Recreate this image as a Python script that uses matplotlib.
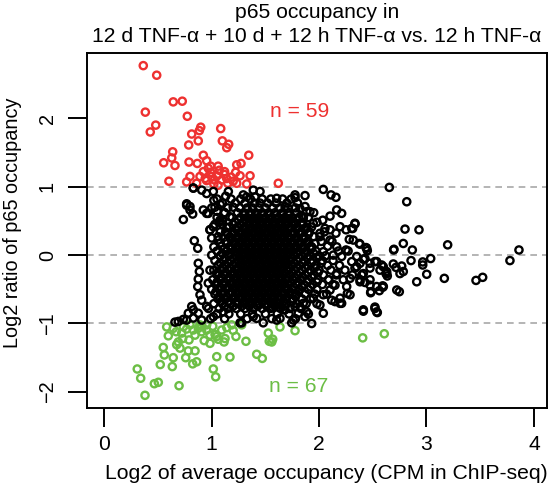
import matplotlib
matplotlib.use('Agg')
import matplotlib.pyplot as plt

plt.rcParams['font.family'] = ['Liberation Sans', 'DejaVu Sans']

# points above the +1 line (red)
red_x = [0.363, 0.488, 0.642, 0.726, 0.382, 0.773, 0.479, 0.428, 0.898, 0.885,
         0.814, 1.084, 0.875, 1.099, 1.158, 1.140, 0.786, 0.637, 0.628, 0.553,
         0.658, 0.789, 0.922, 0.866, 1.345, 0.953, 1.233, 1.273, 0.968, 0.922,
         1.071, 0.991, 1.223, 0.798, 0.891, 1.117, 1.264, 1.357, 0.602, 0.767,
         0.953, 1.024, 1.093, 1.140, 1.233, 1.326, 1.620, 0.860, 1.059, 1.050,
         1.000, 1.150, 1.180, 1.020, 0.940, 1.120, 1.200, 0.990, 1.060]
red_y = [2.77, 2.63, 2.24, 2.25, 2.09, 2.03, 1.90, 1.80, 1.87, 1.82,
         1.77, 1.85, 1.67, 1.67, 1.62, 1.57, 1.61, 1.51, 1.42, 1.35,
         1.31, 1.36, 1.46, 1.34, 1.46, 1.38, 1.32, 1.34, 1.27, 1.22,
         1.24, 1.21, 1.21, 1.15, 1.15, 1.18, 1.16, 1.16, 1.08, 1.07,
         1.09, 1.10, 1.10, 1.12, 1.05, 1.04, 1.05, 1.05, 1.02, 1.16,
         1.15, 1.05, 1.14, 1.04, 1.12, 1.22, 1.08, 1.30, 1.30]

# points below the -1 line (green)
green_x = [0.307, 0.339, 0.379, 0.466, 0.503, 0.696, 0.521, 0.559, 0.549, 0.596,
           0.642, 0.633, 0.674, 0.705, 0.730, 0.789, 0.782, 0.845, 0.758, 0.823,
           0.860, 1.015, 1.037, 1.047, 1.170, 1.419, 1.471, 1.319, 1.226, 1.115,
           0.984, 1.061, 1.031, 1.527, 1.536, 1.559, 1.568, 1.776, 1.636, 2.406,
           2.607, 0.581, 0.642, 0.767, 0.829, 0.875, 0.907, 0.953, 0.984, 1.093,
           1.140, 1.186, 0.891, 0.736, 0.798, 0.953, 0.689, 1.279, 1.124, 1.047,
           0.845, 0.721, 0.910, 1.010, 0.670, 1.200, 0.930]
green_y = [-1.665, -1.80, -2.05, -1.88, -1.86, -1.91, -1.60, -1.46, -1.35, -1.18,
           -1.50, -1.63, -1.31, -1.36, -1.22, -1.24, -1.40, -1.40, -1.50, -1.59,
           -1.56, -1.665, -1.78, -1.485, -1.49, -1.45, -1.51, -1.26, -1.19, -1.27,
           -1.29, -1.23, -1.16, -1.14, -1.26, -1.27, -1.23, -1.105, -1.05, -1.21,
           -1.15, -1.05, -1.07, -1.08, -1.095, -1.07, -1.12, -1.095, -1.17, -1.095,
           -1.06, -1.02, -1.02, -1.05, -1.02, -1.02, -1.27, -1.02, -1.22, -1.19,
           -1.17, -1.14, -1.04, -1.04, -1.12, -1.10, -1.25]

# scattered unchanged peaks (black), outside the dense core
black_x = [2.654, 2.816, 2.800, 2.930, 2.784, 2.694, 2.868, 3.197, 2.856, 2.965,
           3.039, 2.965, 3.002, 2.909, 3.166, 3.461, 3.523, 3.777, 3.861, 2.691,
           2.769, 2.784, 2.747, 2.412, 2.520, 2.542, 2.592, 2.561, 2.480, 2.583,
           2.623, 2.635, 2.716, 2.753, 2.427, 2.474, 2.381, 2.334, 2.313, 2.318,
           2.381, 2.437, 2.449, 2.412, 2.520, 2.629, 2.350, 2.474, 2.412,
           2.039, 2.111, 2.157, 1.776, 2.164, 2.210, 2.102, 2.034, 2.334, 2.304,
           2.251, 2.195, 2.157, 2.281, 2.374, 2.443, 2.697, 2.251, 2.164, 2.102,
           2.008, 1.962, 2.536, 2.598, 2.474, 2.381, 2.304, 2.397, 2.474, 2.536,
           2.592, 2.483, 2.381, 2.288, 2.257, 2.263, 2.195, 2.195, 2.723, 2.412,
           2.520, 2.536, 1.931, 1.745, 2.008, 2.117, 2.102, 2.039, 1.946, 1.853,
           1.776, 1.885, 1.806, 1.667, 1.605, 1.869, 1.869, 1.915, 1.853, 1.946,
           2.055, 2.102, 2.008, 1.931, 2.039, 2.132, 2.210, 2.350, 2.427, 2.567,
           2.629, 2.334, 2.241, 2.164, 2.225, 2.148, 2.086, 2.288,
           1.605, 0.953, 1.015, 1.155, 1.294, 1.387, 1.450, 1.403, 0.922, 0.968,
           1.015, 0.984, 1.077, 1.683, 1.822, 1.885, 1.698, 1.853,
           1.264, 1.480, 1.760, 1.636, 1.387, 1.108, 1.015, 0.907, 1.559, 1.683,
           1.822, 2.039, 2.148, 2.210, 2.598,
           0.658, 0.767, 0.875, 1.279, 1.419, 1.574, 0.829,
           0.767, 0.798, 0.829, 1.776, 1.869, 1.326,
           0.767, 0.798, 0.823, 0.736, 0.829, 0.907, 0.953, 0.984, 0.838, 0.870,
           1.000, 0.875, 0.885, 0.875, 0.870, 0.891, 0.907, 0.814, 0.782, 0.736,
           0.689, 0.829, 0.984, 0.968, 0.953,
           1.100, 1.050, 1.150, 1.000, 1.080, 1.120, 1.030,
           1.020, 1.130, 1.080, 1.200, 1.050, 1.170, 1.100, 1.030, 1.140, 1.080,
           1.020, 1.060]
black_y = [0.99, 0.78, 0.38, 0.37, 0.17, 0.075, 0.075, 0.15, -0.08, -0.10,
           -0.05, -0.145, -0.28, -0.39, -0.34, -0.37, -0.325, -0.08, 0.075, -0.13,
           -0.16, -0.24, -0.535, -0.82, -0.78, -0.84, -0.45, -0.52, -0.55, -0.145,
           -0.27, -0.305, -0.18, -0.27, -0.40, -0.44, -0.36, 0.455, 0.39, 0.22,
           0.16, 0.11, 0.065, -0.06, -0.095, -0.24, -0.17, -0.19, -0.27,
           0.96, 0.88, 0.845, 0.88, 0.66, 0.61, 0.57, 0.51, 0.465, 0.39,
           0.37, 0.415, 0.32, 0.23, 0.17, 0.10, 0.085, 0.075, 0.12, 0.22,
           0.27, 0.17, -0.095, -0.17, -0.12, -0.12, -0.095, -0.29, -0.36, -0.46,
           -0.47, -0.535, -0.39, -0.34, -0.46, -0.56, -0.63, -0.705, -0.51, -0.80,
           -0.76, -0.83, -1.00, -0.99, -0.73, -0.66, -0.51, -0.58, -0.63, -0.705,
           -0.755, -0.83, -0.85, -0.80, -0.95, -0.90, 0.71, 0.635, 0.54, 0.465,
           0.39, 0.37, 0.32, 0.12, 0.05, 0.00, -0.02, -0.02, -0.05, -0.22,
           -0.27, -0.19, -0.22, -0.27, -0.36, -0.44, -0.36, -0.58,
           0.83, 0.90, 0.93, 0.93, 0.88, 0.95, 0.93, 0.85, 0.66, 0.61,
           0.415, 0.37, 0.51, 0.71, 0.68, 0.635, 0.54, 0.56,
           -0.99, -0.99, -0.95, -0.925, -0.90, -0.83, -0.90, -0.95, -0.755, -0.80,
           -0.755, -0.85, -0.68, -0.705, -0.46,
           -0.98, -0.95, -0.85, -0.99, -0.925, -0.705, -0.80,
           0.75, 0.71, 0.98, 0.84, 0.87, 0.85,
           0.73, 0.66, 0.60, 0.52, 0.98, 0.95, 0.61, 0.37, 0.21, 0.10,
           0.00, -0.12, -0.24, -0.35, -0.46, -0.58, -0.66, -0.75, -0.85, -0.94,
           -0.97, -0.92, -0.22, -0.41, -0.75,
           0.45, 0.55, 0.30, 0.25, 0.18, 0.62, 0.70,
           0.80, 0.86, 0.74, 0.70, 0.64, 0.56, 0.50, 0.45, 0.40, 0.34,
           0.12, 0.22]

# dense core of the cloud, read row by row
core_y = [0.82, 0.76, 0.69, 0.62, 0.55, 0.48, 0.41, 0.34, 0.27, 0.20,
          0.13, 0.06, -0.01, -0.08, -0.15, -0.22, -0.29, -0.36, -0.43, -0.50,
          -0.57, -0.64, -0.71, -0.78, -0.86, -0.93]
core_x = [
    [1.05, 1.18, 1.27, 1.36, 1.47, 1.55, 1.66, 1.74],
    [1.10, 1.22, 1.31, 1.40, 1.45, 1.52, 1.60, 1.70, 1.80],
    [1.00, 1.15, 1.26, 1.33, 1.38, 1.44, 1.50, 1.57, 1.63, 1.71, 1.78],
    [1.12, 1.24, 1.30, 1.36, 1.41, 1.47, 1.53, 1.59, 1.66, 1.72, 1.79, 1.95],
    [1.19, 1.27, 1.33, 1.39, 1.44, 1.50, 1.56, 1.62, 1.68, 1.75, 1.81, 1.90],
    [1.07, 1.22, 1.29, 1.35, 1.41, 1.46, 1.52, 1.58, 1.64, 1.70, 1.77, 1.84, 1.98],
    [1.16, 1.24, 1.31, 1.37, 1.43, 1.49, 1.55, 1.61, 1.67, 1.73, 1.80, 1.88, 1.93],
    [1.13, 1.20, 1.27, 1.33, 1.39, 1.45, 1.51, 1.57, 1.63, 1.69, 1.76, 1.83, 1.91, 2.05],
    [1.06, 1.17, 1.24, 1.30, 1.36, 1.42, 1.48, 1.54, 1.60, 1.66, 1.72, 1.79, 1.86, 1.95],
    [1.14, 1.21, 1.27, 1.33, 1.39, 1.45, 1.51, 1.57, 1.63, 1.69, 1.75, 1.82, 1.89, 2.02, 2.12],
    [1.09, 1.17, 1.24, 1.30, 1.36, 1.42, 1.48, 1.54, 1.60, 1.66, 1.72, 1.78, 1.85, 1.92, 2.08],
    [1.05, 1.14, 1.21, 1.27, 1.33, 1.39, 1.45, 1.51, 1.57, 1.63, 1.69, 1.75, 1.81, 1.88, 1.97, 2.18, 2.27],
    [1.08, 1.16, 1.23, 1.29, 1.35, 1.41, 1.47, 1.53, 1.59, 1.65, 1.71, 1.77, 1.84, 1.91, 2.00, 2.06],
    [1.03, 1.11, 1.18, 1.25, 1.31, 1.37, 1.43, 1.49, 1.55, 1.61, 1.67, 1.73, 1.79, 1.86, 1.94, 2.03, 2.13],
    [1.06, 1.13, 1.20, 1.27, 1.33, 1.39, 1.45, 1.51, 1.57, 1.63, 1.69, 1.75, 1.82, 1.89, 1.97, 2.08, 2.19],
    [1.02, 1.09, 1.16, 1.23, 1.29, 1.35, 1.41, 1.47, 1.53, 1.59, 1.65, 1.71, 1.77, 1.84, 1.92, 2.00, 2.11],
    [1.05, 1.12, 1.19, 1.25, 1.31, 1.37, 1.43, 1.49, 1.55, 1.61, 1.67, 1.73, 1.80, 1.87, 1.95, 2.04, 2.16, 2.31],
    [1.01, 1.08, 1.15, 1.22, 1.28, 1.34, 1.40, 1.46, 1.52, 1.58, 1.64, 1.70, 1.76, 1.83, 1.90, 1.99, 2.09],
    [1.04, 1.11, 1.18, 1.24, 1.30, 1.36, 1.42, 1.48, 1.54, 1.60, 1.66, 1.72, 1.79, 1.86, 1.94, 2.03, 2.13],
    [1.00, 1.07, 1.14, 1.21, 1.27, 1.33, 1.39, 1.45, 1.51, 1.57, 1.63, 1.69, 1.75, 1.82, 1.90, 1.98],
    [1.03, 1.10, 1.17, 1.24, 1.30, 1.36, 1.42, 1.48, 1.54, 1.60, 1.66, 1.72, 1.79, 1.87, 1.96, 2.07],
    [1.06, 1.13, 1.20, 1.27, 1.33, 1.39, 1.45, 1.51, 1.57, 1.63, 1.69, 1.76, 1.84, 1.92],
    [1.02, 1.10, 1.17, 1.24, 1.31, 1.38, 1.44, 1.50, 1.56, 1.62, 1.70, 1.79, 1.88, 1.98],
    [0.97, 1.07, 1.15, 1.23, 1.31, 1.39, 1.47, 1.55, 1.64, 1.73, 1.83],
    [1.05, 1.16, 1.27, 1.38, 1.50, 1.61, 1.72, 1.90],
    [0.99, 1.12, 1.33, 1.56, 1.78],
]

# second, staggered set of rows inside the solid part of the core
core2_y = [0.585, 0.515, 0.445, 0.375, 0.305, 0.235, 0.165, 0.095, 0.025, -0.045,
           -0.115, -0.185, -0.255, -0.325, -0.395, -0.465, -0.535, -0.605, -0.675, -0.745]
core2_x = [
    [1.30, 1.36, 1.42, 1.48, 1.54, 1.60, 1.66, 1.72],
    [1.25, 1.31, 1.37, 1.43, 1.49, 1.55, 1.61, 1.67, 1.73, 1.79],
    [1.20, 1.27, 1.34, 1.40, 1.46, 1.52, 1.58, 1.64, 1.70, 1.77, 1.85],
    [1.23, 1.30, 1.36, 1.42, 1.48, 1.54, 1.60, 1.66, 1.72, 1.79, 1.87],
    [1.20, 1.27, 1.33, 1.39, 1.45, 1.51, 1.57, 1.63, 1.69, 1.76, 1.82, 1.90],
    [1.18, 1.24, 1.30, 1.36, 1.42, 1.48, 1.54, 1.60, 1.66, 1.72, 1.79, 1.86],
    [1.14, 1.21, 1.27, 1.33, 1.39, 1.45, 1.51, 1.57, 1.63, 1.69, 1.75, 1.82, 1.89],
    [1.12, 1.18, 1.24, 1.30, 1.36, 1.42, 1.48, 1.54, 1.60, 1.66, 1.72, 1.78, 1.85, 1.93],
    [1.10, 1.17, 1.24, 1.30, 1.36, 1.42, 1.48, 1.54, 1.60, 1.66, 1.72, 1.79, 1.87, 1.95],
    [1.12, 1.20, 1.26, 1.32, 1.38, 1.44, 1.50, 1.56, 1.62, 1.68, 1.74, 1.81, 1.89, 1.98],
    [1.08, 1.15, 1.22, 1.28, 1.34, 1.40, 1.46, 1.52, 1.58, 1.64, 1.70, 1.77, 1.85, 1.93, 2.02],
    [1.10, 1.17, 1.24, 1.30, 1.36, 1.42, 1.48, 1.54, 1.60, 1.66, 1.72, 1.79, 1.87, 1.96],
    [1.06, 1.13, 1.20, 1.26, 1.32, 1.38, 1.44, 1.50, 1.56, 1.62, 1.68, 1.75, 1.82, 1.90, 1.99],
    [1.09, 1.16, 1.22, 1.28, 1.34, 1.40, 1.46, 1.52, 1.58, 1.64, 1.70, 1.77, 1.84, 1.93],
    [1.05, 1.12, 1.19, 1.25, 1.31, 1.37, 1.43, 1.49, 1.55, 1.61, 1.67, 1.74, 1.81, 1.89, 1.98],
    [1.08, 1.15, 1.21, 1.27, 1.33, 1.39, 1.45, 1.51, 1.57, 1.63, 1.69, 1.76, 1.84, 1.92],
    [1.04, 1.11, 1.18, 1.24, 1.30, 1.36, 1.42, 1.48, 1.54, 1.60, 1.66, 1.73, 1.81],
    [1.07, 1.14, 1.21, 1.27, 1.33, 1.39, 1.45, 1.51, 1.57, 1.63, 1.70, 1.78],
    [1.09, 1.16, 1.23, 1.30, 1.36, 1.42, 1.48, 1.54, 1.60, 1.67, 1.75],
    [1.12, 1.20, 1.28, 1.35, 1.43, 1.51, 1.59, 1.68],
]

red = '#EE3130'
green = '#6CBE45'

all_black_x = list(black_x)
all_black_y = list(black_y)
for yv, xs in list(zip(core_y, core_x)) + list(zip(core2_y, core2_x)):
    all_black_x.extend(xs)
    all_black_y.extend([yv] * len(xs))

fig = plt.figure(figsize=(5.51, 4.90), dpi=100)
ax = fig.add_axes([87 / 551, 1 - 407.7 / 490, 460 / 551, 355 / 490])

for yl in (-1, 0, 1):
    ax.axhline(yl, color='#A8A8A8', lw=1.2, ls=(0, (4, 3)), zorder=1)

ms = 27
lw = 1.7
ax.scatter(red_x, red_y, s=ms, facecolors='none', edgecolors=red, linewidths=lw, zorder=2)
ax.scatter(green_x, green_y, s=ms, facecolors='none', edgecolors=green, linewidths=lw, zorder=2)
ax.scatter(all_black_x, all_black_y, s=ms, facecolors='none', edgecolors='black', linewidths=lw, zorder=3)

hfs = 15.2   # horizontal text
vfs = 14.3   # vertical text
ax.text(1.82, 2.10, 'n = 59', color=red, fontsize=hfs, ha='center', va='center')
ax.text(1.81, -1.92, 'n = 67', color=green, fontsize=hfs, ha='center', va='center')

ax.set_xlim(-0.161, 4.122)
ax.set_ylim(-2.231, 2.959)
ax.set_xticks([0, 1, 2, 3, 4])
ax.set_yticks([-2, -1, 0, 1, 2])
for sp in ax.spines.values():
    sp.set_linewidth(1.4)
ax.tick_params(length=13.7, width=1.4)
ax.tick_params(axis='x', pad=6, labelsize=hfs)
ax.tick_params(axis='y', pad=8, labelrotation=90, labelsize=vfs)
for lab in ax.get_yticklabels():
    lab.set_va('center')

fig.text(317 / 551, 1 - 12 / 490, 'p65 occupancy in', ha='center', va='center', fontsize=hfs)
fig.text(317 / 551, 1 - 37 / 490, '12 d TNF-\u03b1 + 10 d + 12 h TNF-\u03b1 vs. 12 h TNF-\u03b1',
         ha='center', va='center', fontsize=hfs)
fig.text(326 / 551, 1 - 473 / 490, 'Log2 of average occupancy (CPM in ChIP-seq)',
         ha='center', va='center', fontsize=hfs)
fig.text(13 / 551, 0.545, 'Log2 ratio of p65 occupancy', rotation=90,
         ha='center', va='center', fontsize=vfs)

fig.savefig('out.png', dpi=100)
